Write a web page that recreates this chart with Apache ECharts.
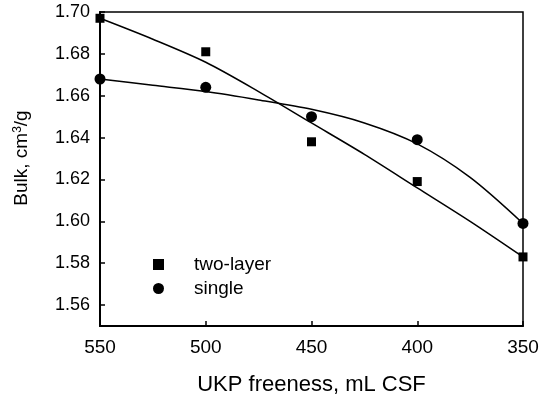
<!DOCTYPE html>
<html>
<head>
<meta charset="utf-8">
<script src="https://cdn.jsdelivr.net/npm/echarts@6/dist/echarts.min.js"></script>
<style>
  html, body { margin: 0; padding: 0; background: #fff; }
  #chart { width: 540px; height: 397px; }
</style>
</head>
<body>
<div id="chart"></div>
<script>
// measured points
const freeness = [550, 500, 450, 400, 350];
const twoLayer = [1.697, 1.681, 1.638, 1.619, 1.583];
const single = [1.668, 1.664, 1.650, 1.639, 1.599];

// fitted curves
const fitFreeness = [550, 525, 500, 475, 450, 425, 400, 375, 350];
const twoLayerFit = [1.697, 1.687, 1.676, 1.662, 1.647, 1.632, 1.616, 1.600, 1.583];
const singleFit = [1.668, 1.665, 1.662, 1.658, 1.6535, 1.647, 1.637, 1.621, 1.599];

// tick labels
const xTicks = [550, 500, 450, 400, 350];
const yTicks = [1.56, 1.58, 1.60, 1.62, 1.64, 1.66, 1.68, 1.70];

const pairs = (xs, ys) => xs.map((x, i) => [x, ys[i]]);
const font = '"Liberation Sans", Arial, sans-serif';

const myChart = echarts.init(document.getElementById('chart'));
myChart.setOption({
  animation: false,
  backgroundColor: '#fff',
  textStyle: { fontFamily: font, color: '#000' },
  grid: {
    left: 100,
    right: 17,
    top: 12,
    bottom: 71,
    outerBoundsMode: 'none',
    show: true,
    borderColor: '#000',
    borderWidth: 1.5
  },
  legend: {
    orient: 'vertical',
    left: 148,
    top: 250,
    itemWidth: 11,
    itemHeight: 11,
    itemGap: 5,
    data: ['two-layer', 'single'],
    textStyle: { fontFamily: font, fontSize: 19, color: '#000', padding: [0, 0, 0, 25] }
  },
  xAxis: {
    type: 'value',
    inverse: true,
    min: 350,
    max: 550,
    interval: 50,
    name: 'UKP freeness, mL CSF',
    nameLocation: 'middle',
    nameGap: 48,
    nameTextStyle: { fontFamily: font, fontSize: 22, color: '#000' },
    axisLine: { show: true, lineStyle: { color: '#000', width: 2 } },
    axisTick: { show: true, inside: true, length: 5, lineStyle: { color: '#000', width: 1.5 }, customValues: xTicks },
    axisLabel: { fontFamily: font, fontSize: 19, color: '#000', margin: 12, customValues: xTicks },
    splitLine: { show: false }
  },
  yAxis: {
    type: 'value',
    min: 1.55,
    max: 1.70,
    name: 'Bulk, cm{sup|3}/g',
    nameLocation: 'middle',
    nameGap: 68,
    nameTextStyle: {
      fontFamily: font,
      fontSize: 19,
      color: '#000',
      padding: [0, 0, 0, 22],
      rich: { sup: { fontFamily: font, fontSize: 12, color: '#000', verticalAlign: 'top', padding: [0, 0, 8, 0] } }
    },
    axisLine: { show: true, lineStyle: { color: '#000', width: 2 } },
    axisTick: { show: true, inside: true, length: 5, lineStyle: { color: '#000', width: 1.5 }, customValues: yTicks },
    axisLabel: {
      fontFamily: font,
      fontSize: 18,
      color: '#000',
      margin: 10,
      customValues: yTicks,
      formatter: (v) => v.toFixed(2)
    },
    splitLine: { show: false }
  },
  series: [
    {
      name: 'two-layer',
      type: 'scatter',
      symbol: 'rect',
      symbolSize: 9,
      itemStyle: { color: '#000', opacity: 1 },
      data: pairs(freeness, twoLayer),
      z: 3
    },
    {
      name: 'single',
      type: 'scatter',
      symbol: 'circle',
      symbolSize: 11,
      itemStyle: { color: '#000', opacity: 1 },
      data: pairs(freeness, single),
      z: 3
    },
    {
      name: 'two-layer fit',
      type: 'line',
      smooth: 0.3,
      showSymbol: false,
      lineStyle: { color: '#000', width: 1.5 },
      data: pairs(fitFreeness, twoLayerFit)
    },
    {
      name: 'single fit',
      type: 'line',
      smooth: 0.3,
      showSymbol: false,
      lineStyle: { color: '#000', width: 1.5 },
      data: pairs(fitFreeness, singleFit)
    }
  ]
});
</script>
</body>
</html>
